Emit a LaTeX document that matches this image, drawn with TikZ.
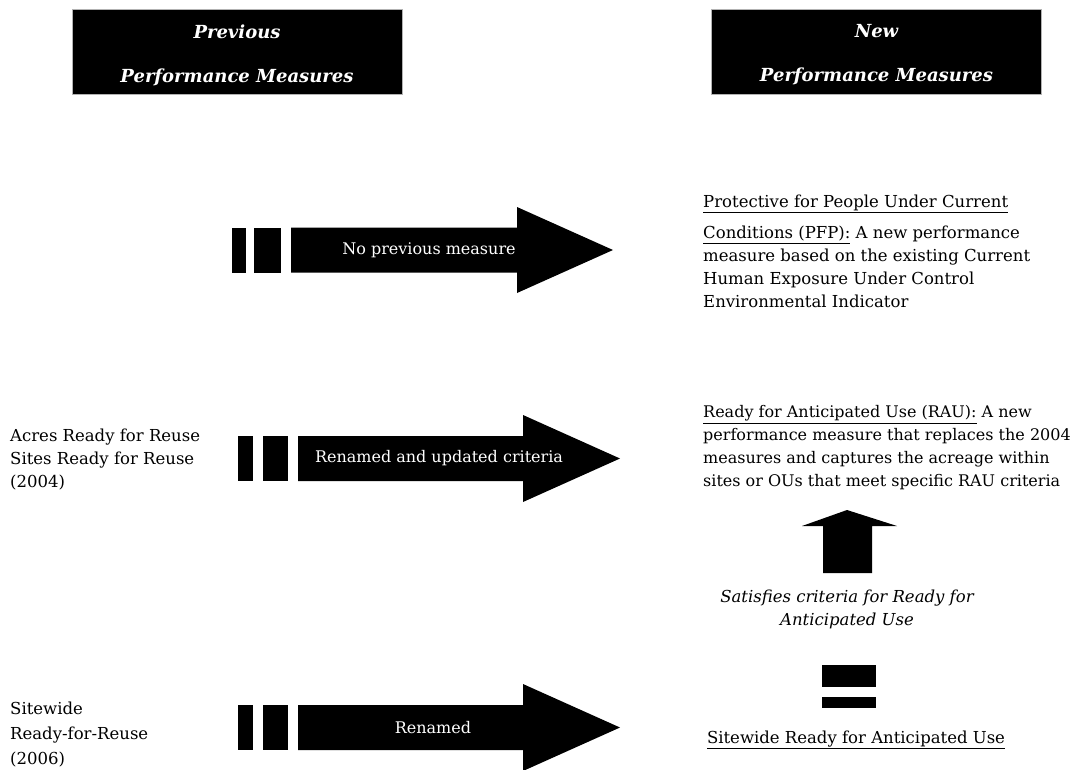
\documentclass[tikz,border=0pt]{standalone}
\usepackage{fontspec}
\setmainfont{DejaVu Serif}
\usepackage{tikz}
\usepackage{xcolor}
\tikzstyle{header} = [rectangle, fill=black, draw=gray!60, minimum width=330pt, minimum height=85pt, inner sep=0pt]
\tikzstyle{headtext} = [text=white, align=center, font=\fontsize{18}{44}\selectfont\bfseries\itshape]
\tikzstyle{plain} = [inner sep=0pt, align=left, font=\fontsize{16.5}{23}\selectfont]
\tikzstyle{arrowtext} = [text=white, inner sep=0pt, font=\fontsize{16}{23}\selectfont]
\tikzstyle{bar} = [rectangle, fill=black, inner sep=0pt]

\begin{document}
\begin{tikzpicture}[x=1pt, y=-1pt]
            \useasboundingbox (0,0) rectangle (1071,769);

            % Draw Headers
            \node(prevhead) [header] at (237,51.5) {};
            \node(newhead) [header] at (876.5,51.5) {};
            \node(prevtitle) [headtext] at (237,55) {Previous\\Performance Measures};
            \node(newtitle) [headtext] at (876.5,55) {New\\Performance Measures};

            % Draw Left Texts
            \node(acres) [plain, anchor=west] at (10,460) {Acres Ready for Reuse\\Sites Ready for Reuse\\(2004)};
            \node(sitewide) [plain, anchor=west, font=\fontsize{16.5}{25}\selectfont] at (10,735) {Sitewide\\Ready-for-Reuse\\(2006)};

            % Draw Right Texts
            \node(pfp) [plain, anchor=north west] at (703,195) {\underline{Protective for People Under Current}\\[8pt]\underline{Conditions (PFP):} A new performance\\measure based on the existing Current\\Human Exposure Under Control\\Environmental Indicator};
            \node(rau) [plain, anchor=west, font=\fontsize{16}{23}\selectfont] at (703,448) {\underline{Ready for Anticipated Use (RAU):} A new\\performance measure that replaces the 2004\\measures and captures the acreage within\\sites or OUs that meet specific RAU criteria};
            \node(satisfies) [plain, align=center, font=\fontsize{16.5}{23}\selectfont\itshape] at (847,609.5) {Satisfies criteria for Ready for\\Anticipated Use};
            \node(srau) [plain] at (856,740) {\underline{Sitewide Ready for Anticipated Use}};

            % Draw Arrows
            \node(barA1) [bar, minimum width=14pt, minimum height=45pt] at (239,250) {};
            \node(barA2) [bar, minimum width=27pt, minimum height=45pt] at (267.5,250) {};
            \fill (291,227.5) -- (517,227.5) -- (517,207) -- (613,250) -- (517,293) -- (517,272.5) -- (291,272.5) -- cycle;
            \node(arrowA) [arrowtext] at (429,250) {No previous measure};

            \node(barB1) [bar, minimum width=15pt, minimum height=45pt] at (245.5,458.5) {};
            \node(barB2) [bar, minimum width=25pt, minimum height=45pt] at (275.5,458.5) {};
            \fill (298,436) -- (523,436) -- (523,415) -- (620,458.5) -- (523,502) -- (523,481) -- (298,481) -- cycle;
            \node(arrowB) [arrowtext] at (439,458.5) {Renamed and updated criteria};

            \node(barC1) [bar, minimum width=15pt, minimum height=45pt] at (245.5,727.5) {};
            \node(barC2) [bar, minimum width=25pt, minimum height=45pt] at (275.5,727.5) {};
            \fill (298,705) -- (523,705) -- (523,684) -- (620,727.5) -- (523,771) -- (523,750) -- (298,750) -- cycle;
            \node(arrowC) [arrowtext] at (433,727.5) {Renamed};

            % Up Arrow and Equals
            \fill (823,573) -- (823,526) -- (802,526) -- (847,510) -- (897,526) -- (872,526) -- (872,573) -- cycle;
            \node(eqtop) [bar, minimum width=54pt, minimum height=22pt] at (849,676) {};
            \node(eqbot) [bar, minimum width=54pt, minimum height=11pt] at (849,702.5) {};
\end{tikzpicture}
\end{document}
